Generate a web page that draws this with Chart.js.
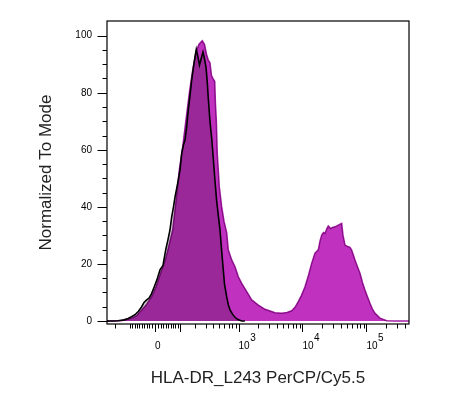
<!DOCTYPE html>
<html><head><meta charset="utf-8">
<script src="https://cdn.jsdelivr.net/npm/chart.js@4.4.1/dist/chart.umd.min.js"></script>
<style>html,body{margin:0;padding:0;background:#fff;}#wrap{width:449px;height:406px;}</style>
</head><body><div id="wrap"><canvas id="c" width="449" height="406"></canvas></div>
<script>
const xTitle = 'HLA-DR_L243 PerCP/Cy5.5';
const yTitle = 'Normalized To Mode';

// display position (decades of the biexponential axis) and % of mode
const controlX = [-0.750,-0.656,-0.578,-0.484,-0.422,-0.367,-0.313,-0.258,-0.208,-0.172,
  -0.130,-0.094,-0.055,-0.011,0.031,0.078,0.125,0.167,0.203,0.234,
  0.261,0.289,0.313,0.339,0.364,0.391,0.417,0.442,0.469,0.495,
  0.520,0.547,0.573,0.598,0.625,0.645,0.672,0.695,0.722,0.750,
  0.773,0.797,0.816,0.833,0.859,0.886,0.911,0.938,0.964,0.989,
  1.016,1.042,1.067,1.086,1.120,1.145,1.172,1.211,1.250,1.297,
  1.355,1.406];
const controlY = [0,0,0.1,0.4,0.9,1.5,2.2,3.4,5,6.5,
  7.4,8,9.5,12,14.5,17.9,19.5,24.9,28.5,31.9,
  36.5,40,43.5,46.5,49.4,53,58.7,61.5,63.4,68,
  73.9,79,84.4,88.5,92.6,95.2,92.5,89.7,92,94.3,
  92,89,84,78,70,64,57,49,42,37,
  31.9,24.5,17.9,13,8.5,5.8,3.9,2.4,1.3,0.5,
  0,0];
const stainedX = [-0.750,-0.656,-0.516,-0.422,-0.359,-0.281,-0.208,-0.141,-0.052,0.016,
  0.105,0.156,0.208,0.277,0.328,0.380,0.433,0.484,0.536,0.589,
  0.641,0.688,0.739,0.773,0.805,0.833,0.859,0.883,0.911,0.933,
  0.945,0.958,0.973,1.005,1.042,1.078,1.120,1.145,1.198,1.250,
  1.302,1.355,1.433,1.511,1.614,1.719,1.875,1.980,2.063,2.136,
  2.188,2.239,2.289,2.344,2.398,2.448,2.500,2.552,2.578,2.605,
  2.633,2.656,2.688,2.708,2.745,2.773,2.813,2.864,2.917,2.938,
  2.969,3.020,3.047,3.073,3.102,3.125,3.164,3.203,3.242,3.281,
  3.320,3.359,3.398,3.438,3.516,3.620,3.750,3.969];
const stainedY = [0,0,0.2,0.6,1,2,3.9,5.5,8.5,12,
  17.9,21,25.5,31.9,42,52.9,61,70.4,79.8,87.9,
  94.3,97,98.2,97,93.5,91.4,90.5,86,84.8,84,
  76,70.4,58.7,47,40,35,31,25,21.4,19,
  15.5,13.2,10.3,7.4,5.6,4.1,2.9,2.7,3,3.6,
  4.8,6.8,9,12,16,20.2,23.8,25,28,30.1,
  31,30.7,32.5,33.3,32.4,32.8,33,33.6,34.2,30,
  26.6,26,25.8,24.9,23,21.4,19,16.7,13.5,10.9,
  8.5,6.2,4.2,2.7,1,0.1,0,0];

const xTickValues = [0, 1000, 10000, 100000];
const xTickBase = ['0', '10', '10', '10'];
const xTickExp = ['', '3', '4', '5'];
const xMajorValues = [0, 100, 1000, 10000, 100000];
const xMinorValues = [-200,-100,-90,-80,-70,-60,-50,-40,-30,-20,-10,
  10,20,30,40,50,60,70,80,90,
  200,300,400,500,600,700,800,900,
  2000,3000,4000,5000,6000,7000,8000,9000,
  20000,30000,40000,50000,60000,70000,80000,90000,
  200000,300000,400000];
const yTickValues = [0, 20, 40, 60, 80, 100];
const yMinorValues = [5,10,15,25,30,35,45,50,55,65,70,75,85,90,95];

const WIDTH_BASIS = 99.3;
function biex(v) { return Math.asinh(v / WIDTH_BASIS) / Math.LN10; }

const tickFont = {family: 'Liberation Sans, Arial, sans-serif', size: 10};
const titleFont = {family: 'Liberation Sans, Arial, sans-serif', size: 17};

const decoPlugin = {
  id: 'deco',
  beforeDraw(chart) {
    const ctx = chart.ctx;
    ctx.save(); ctx.fillStyle = '#fff'; ctx.fillRect(0, 0, chart.width, chart.height); ctx.restore();
  },
  afterDatasetDraw(chart, args) {
    if (args.index === 0) chart.ctx.globalCompositeOperation = 'multiply';
    if (args.index === 1) chart.ctx.globalCompositeOperation = 'source-over';
  },
  afterDraw(chart) {
    const ctx = chart.ctx, a = chart.chartArea;
    const xs = chart.scales.x, ys = chart.scales.y;
    ctx.save();
    ctx.globalCompositeOperation = 'source-over';
    ctx.strokeStyle = '#000';
    ctx.lineWidth = 1.2;
    ctx.strokeRect(a.left, a.top, a.right - a.left, a.bottom - a.top);
    ctx.lineWidth = 1;
    ctx.beginPath();
    xMajorValues.forEach(v => {
      const p = Math.round(xs.getPixelForValue(biex(v))) + 0.5;
      if (p < a.left || p > a.right) return;
      ctx.moveTo(p, a.bottom); ctx.lineTo(p, a.bottom + 8);
    });
    xMinorValues.forEach(v => {
      const p = Math.round(xs.getPixelForValue(biex(v))) + 0.5;
      if (p < a.left || p > a.right) return;
      ctx.moveTo(p, a.bottom); ctx.lineTo(p, a.bottom + 4.5);
    });
    yTickValues.forEach(v => {
      const p = Math.round(ys.getPixelForValue(v)) + 0.5;
      ctx.moveTo(a.left - 9.5, p); ctx.lineTo(a.left, p);
    });
    yMinorValues.forEach(v => {
      const p = Math.round(ys.getPixelForValue(v)) + 0.5;
      ctx.moveTo(a.left - 4.5, p); ctx.lineTo(a.left, p);
    });
    ctx.stroke();
    // superscript exponents of the decade labels
    ctx.font = '10px "Liberation Sans", Arial, sans-serif';
    ctx.fillStyle = '#000';
    ctx.textAlign = 'left';
    ctx.textBaseline = 'middle';
    xTickValues.forEach((v, i) => {
      if (!xTickExp[i]) return;
      const p = xs.getPixelForValue(biex(v));
      const w = ctx.measureText(xTickBase[i]).width;
      ctx.fillText(xTickExp[i], p + w + 0.5, a.bottom + 14);
    });
    ctx.restore();
  }
};

const ctrlData = controlX.map((x, i) => ({x, y: controlY[i]}));
const stainData = stainedX.map((x, i) => ({x, y: stainedY[i]}));

new Chart(document.getElementById('c'), {
  type: 'line',
  data: {
    datasets: [
      {data: ctrlData, order: 3, fill: 'origin', backgroundColor: 'rgb(204,204,204)', borderWidth: 0, pointRadius: 0},
      {data: stainData, order: 2, fill: 'origin', backgroundColor: '#c131c0', borderColor: '#a21ea2', borderWidth: 1.5, pointRadius: 0},
      {data: ctrlData, order: 1, fill: false, borderColor: '#000', borderWidth: 1.6, pointRadius: 0}
    ]
  },
  options: {
    responsive: false,
    animation: false,
    layout: {padding: {left: 0, top: 21, right: 40, bottom: 0}},
    elements: {line: {tension: 0}},
    plugins: {legend: {display: false}, tooltip: {enabled: false}},
    scales: {
      x: {
        type: 'linear', min: -0.75, max: 3.969,
        afterBuildTicks: s => { s.ticks = xTickValues.map(v => ({value: biex(v)})); },
        afterFit: s => { s.height = 82; },
        grid: {display: false, drawTicks: false},
        border: {display: false},
        ticks: {align: 'start', autoSkip: false, maxRotation: 0, minRotation: 0, padding: 16,
          color: '#000', font: tickFont, callback: (v, i) => xTickBase[i]},
        title: {display: true, text: xTitle, color: '#222', padding: {top: 0, bottom: 17.8}, font: titleFont}
      },
      y: {
        type: 'linear', min: -1.05, max: 105.15,
        afterBuildTicks: s => { s.ticks = yTickValues.map(v => ({value: v})); },
        afterFit: s => { s.width = 107; },
        grid: {display: false, drawTicks: false},
        border: {display: false},
        ticks: {autoSkip: false, padding: 15, color: '#000', font: tickFont},
        title: {display: true, text: yTitle, color: '#222', padding: {top: 35.8, bottom: 0}, font: titleFont}
      }
    }
  },
  plugins: [decoPlugin]
});
</script></body></html>
